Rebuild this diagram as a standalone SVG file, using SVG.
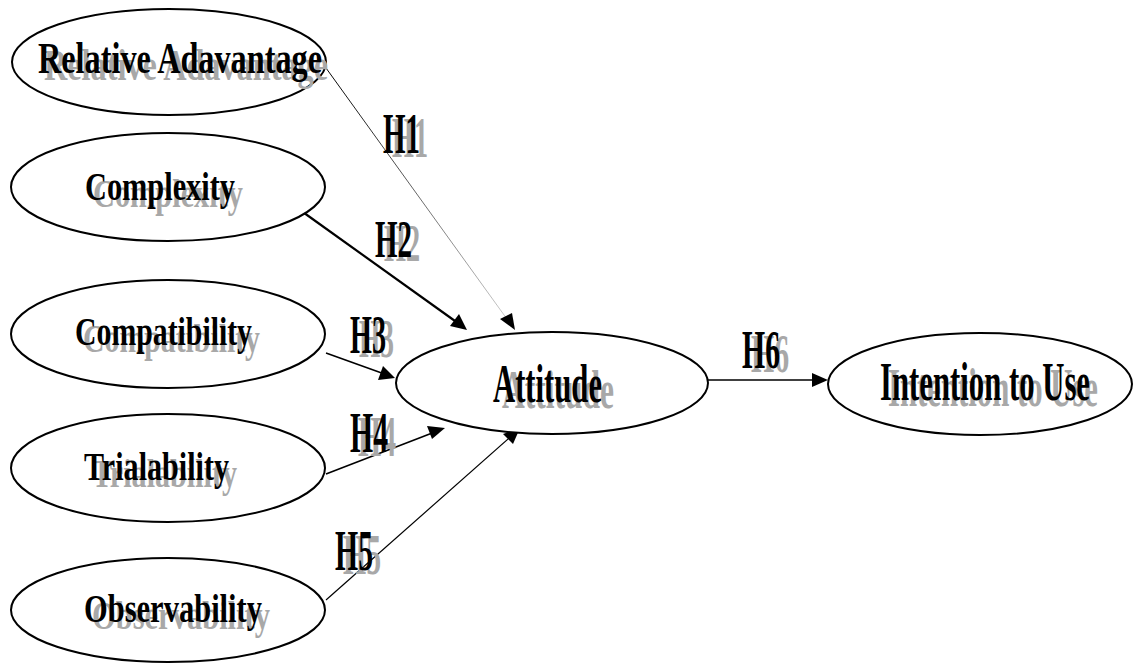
<svg xmlns="http://www.w3.org/2000/svg" width="1133" height="666" viewBox="0 0 1133 666">
<style>
.node ellipse{fill:#fff;stroke:#000;stroke-width:2}
text{font-family:"Liberation Serif","Times New Roman",serif;font-weight:bold}
.fg{fill:#000}
.sh{fill:#a8a8a8}
.conn line{stroke:#000;stroke-width:1.6}
.ah path{fill:#000}
</style>
<defs>
<linearGradient id="g1" gradientUnits="userSpaceOnUse" x1="326" y1="68" x2="510" y2="323">
<stop offset="0" stop-color="#000"/>
<stop offset="1" stop-color="#d0d0d0"/>
</linearGradient>
</defs>
<rect width="1133" height="666" fill="#fff"/>
<g id="connectors" class="conn">
<line x1="326" y1="68" x2="512" y2="326" style="stroke:url(#g1);stroke-width:1"/>
<line x1="300" y1="210" x2="462" y2="326" style="stroke-width:2.2"/>
<line x1="326" y1="353" x2="390" y2="376"/>
<line x1="326" y1="474" x2="440" y2="430"/>
<line x1="326" y1="600" x2="516" y2="432" style="stroke-width:1.2"/>
<line x1="708" y1="380" x2="822" y2="380"/>
</g>
<g id="arrowheads" class="ah">
<path d="M515,330 L500,319 L512,313 Z"/>
<path d="M467,330 L450,326 L459,314 Z"/>
<path d="M395,378 L378,380 L383,366 Z"/>
<path d="M445,428 L432,439 L427,426 Z"/>
<path d="M520,428 L513,444 L503,434 Z"/>
<path d="M828,380 L812,387 L812,373 Z"/>
</g>
<g id="n-relative" class="node">
<ellipse cx="169" cy="62" rx="157" ry="53"/>
<text class="sh" x="44" y="80" font-size="44" textLength="284" lengthAdjust="spacingAndGlyphs">Relative Adavantage</text>
<text class="fg" x="38" y="73" font-size="44" textLength="284" lengthAdjust="spacingAndGlyphs">Relative Adavantage</text>
</g>
<g id="n-complexity" class="node">
<ellipse cx="168" cy="187" rx="157" ry="54"/>
<text class="sh" x="93" y="207" font-size="40" textLength="150" lengthAdjust="spacingAndGlyphs">Complexity</text>
<text class="fg" x="85" y="200" font-size="40" textLength="150" lengthAdjust="spacingAndGlyphs">Complexity</text>
</g>
<g id="n-compatibility" class="node">
<ellipse cx="168" cy="334" rx="157" ry="54"/>
<text class="sh" x="83" y="352" font-size="40" textLength="177" lengthAdjust="spacingAndGlyphs">Compatibility</text>
<text class="fg" x="75" y="345" font-size="40" textLength="177" lengthAdjust="spacingAndGlyphs">Compatibility</text>
</g>
<g id="n-trialability" class="node">
<ellipse cx="168" cy="468" rx="157" ry="54"/>
<text class="sh" x="92" y="487" font-size="40" textLength="145" lengthAdjust="spacingAndGlyphs">Trialability</text>
<text class="fg" x="84" y="480" font-size="40" textLength="145" lengthAdjust="spacingAndGlyphs">Trialability</text>
</g>
<g id="n-observability" class="node">
<ellipse cx="168" cy="610" rx="157" ry="52"/>
<text class="sh" x="92" y="629" font-size="40" textLength="178" lengthAdjust="spacingAndGlyphs">Observability</text>
<text class="fg" x="84" y="622" font-size="40" textLength="178" lengthAdjust="spacingAndGlyphs">Observability</text>
</g>
<g id="n-attitude" class="node">
<ellipse cx="552" cy="383" rx="156" ry="51"/>
<text class="sh" x="502" y="408" font-size="55" textLength="112" lengthAdjust="spacingAndGlyphs">Attitude</text>
<text class="fg" x="493" y="402" font-size="55" textLength="109" lengthAdjust="spacingAndGlyphs">Attitude</text>
</g>
<g id="n-intention" class="node">
<ellipse cx="980" cy="384" rx="152" ry="51"/>
<text class="sh" x="888" y="406" font-size="55" textLength="210" lengthAdjust="spacingAndGlyphs">Intention to Use</text>
<text class="fg" x="880" y="400" font-size="55" textLength="210" lengthAdjust="spacingAndGlyphs">Intention to Use</text>
</g>
<g id="labels">
<text class="sh" x="392" y="157" font-size="58" textLength="36" lengthAdjust="spacingAndGlyphs">H1</text>
<text class="fg" x="383" y="153" font-size="58" textLength="37" lengthAdjust="spacingAndGlyphs">H1</text>
<text class="sh" x="384" y="261" font-size="52" textLength="36" lengthAdjust="spacingAndGlyphs">H2</text>
<text class="fg" x="375" y="257" font-size="52" textLength="37" lengthAdjust="spacingAndGlyphs">H2</text>
<text class="sh" x="359" y="357" font-size="54" textLength="35" lengthAdjust="spacingAndGlyphs">H3</text>
<text class="fg" x="350" y="353" font-size="54" textLength="36" lengthAdjust="spacingAndGlyphs">H3</text>
<text class="sh" x="358" y="456" font-size="58" textLength="38" lengthAdjust="spacingAndGlyphs">H4</text>
<text class="fg" x="350" y="452" font-size="58" textLength="38" lengthAdjust="spacingAndGlyphs">H4</text>
<text class="sh" x="343" y="574" font-size="58" textLength="38" lengthAdjust="spacingAndGlyphs">H5</text>
<text class="fg" x="335" y="570" font-size="58" textLength="38" lengthAdjust="spacingAndGlyphs">H5</text>
<text class="sh" x="751" y="372" font-size="54" textLength="38" lengthAdjust="spacingAndGlyphs">H6</text>
<text class="fg" x="742" y="368" font-size="54" textLength="38" lengthAdjust="spacingAndGlyphs">H6</text>
</g>
</svg>
